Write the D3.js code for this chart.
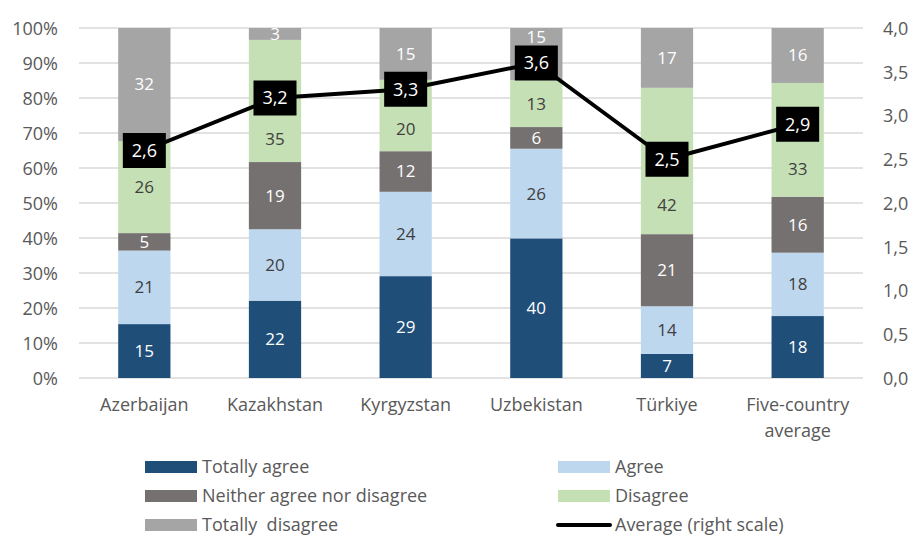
<!DOCTYPE html>
<html>
<head>
<meta charset="utf-8">
<script src="https://cdn.jsdelivr.net/npm/d3@7"></script>
<style>
  body { margin: 0; background: #fff; }
  svg text { font-family: "Open Sans", sans-serif; }
</style>
</head>
<body>
<div id="chart"></div>
<script>
// chart values
const categories = ["Azerbaijan", "Kazakhstan", "Kyrgyzstan", "Uzbekistan", "Türkiye", "Five-country average"];
const totallyAgree = [15.4, 22.1, 29.1, 39.9, 6.9, 17.7];
const agree = [21.0, 20.4, 24.1, 25.6, 13.6, 18.1];
const neither = [5.0, 19.2, 11.6, 6.2, 20.6, 16.0];
const disagree = [26.3, 34.9, 20.4, 13.4, 41.8, 32.5];
const totallyDisagree = [32.3, 3.4, 14.8, 14.9, 17.1, 15.7];
const average = [2.6, 3.2, 3.3, 3.6, 2.5, 2.9];

const leftTicks = [0, 10, 20, 30, 40, 50, 60, 70, 80, 90, 100];
const rightTicks = [0, 0.5, 1, 1.5, 2, 2.5, 3, 3.5, 4];

const series = [
  { name: "Totally agree", values: totallyAgree, color: "#1f4e79", text: "#ffffff" },
  { name: "Agree", values: agree, color: "#bdd7ee", text: "#404040" },
  { name: "Neither agree nor disagree", values: neither, color: "#767171", text: "#ffffff" },
  { name: "Disagree", values: disagree, color: "#c5e0b4", text: "#404040" },
  { name: "Totally  disagree", values: totallyDisagree, color: "#a5a5a5", text: "#ffffff" }
];

const width = 913, height = 536;
const margin = { top: 28, right: 50, bottom: 158, left: 79 };
const boxW = 43, boxH = 35;

const svg = d3.select("#chart").append("svg")
  .attr("width", width)
  .attr("height", height);

const x = d3.scaleBand()
  .domain(categories)
  .range([margin.left, width - margin.right])
  .paddingInner(0.6)
  .paddingOuter(0.3);

const y = d3.scaleLinear()
  .domain([0, 100])
  .range([height - margin.bottom, margin.top]);

const y2 = d3.scaleLinear()
  .domain([0, 4])
  .range([height - margin.bottom, margin.top]);

const comma = d3.formatLocale({ decimal: ",", thousands: ".", grouping: [3], currency: ["", ""] });

// gridlines
svg.append("g")
  .selectAll("line")
  .data(leftTicks)
  .join("line")
  .attr("x1", margin.left)
  .attr("x2", width - margin.right)
  .attr("y1", d => y(d))
  .attr("y2", d => y(d))
  .attr("stroke", "#d9d9d9")
  .attr("stroke-width", 1.5);

// left axis
const yAxis = svg.append("g")
  .attr("transform", `translate(${margin.left - 21}, 0)`)
  .call(d3.axisLeft(y).tickValues(leftTicks).tickSize(0).tickFormat(d => d + "%"));
yAxis.select(".domain").remove();
yAxis.selectAll("text")
  .attr("fill", "#595959")
  .style("font-size", "18px")
  .attr("dy", "0.35em")
  .attr("x", 0);

// right axis
const y2Axis = svg.append("g")
  .attr("transform", `translate(${width - margin.right + 20}, 0)`)
  .call(d3.axisRight(y2).tickValues(rightTicks).tickSize(0).tickFormat(comma.format(".1f")));
y2Axis.select(".domain").remove();
y2Axis.selectAll("text")
  .attr("fill", "#595959")
  .style("font-size", "18px")
  .attr("dy", "0.35em")
  .attr("x", 0);

// x axis labels (long ones wrapped)
const xAxis = svg.append("g")
  .attr("transform", `translate(0, ${height - margin.bottom})`)
  .call(d3.axisBottom(x).tickSize(0));
xAxis.select(".domain").remove();
xAxis.selectAll("text")
  .attr("fill", "#595959")
  .style("font-size", "18px")
  .attr("y", 27)
  .attr("dy", "0.35em")
  .each(function (d) {
    const t = d3.select(this);
    const words = d.split(" ");
    if (words.length > 1 && d.length > 12) {
      t.text(null);
      t.append("tspan").attr("x", 0).attr("dy", "0.35em").text(words.slice(0, -1).join(" "));
      t.append("tspan").attr("x", 0).attr("dy", "1.45em").text(words[words.length - 1]);
    }
  });

// stack the bars
const rows = categories.map((c, i) => {
  const row = { category: c };
  series.forEach(s => { row[s.name] = s.values[i]; });
  return row;
});
const stacked = d3.stack().keys(series.map(s => s.name))(rows);

const layers = svg.append("g")
  .selectAll("g")
  .data(stacked)
  .join("g")
  .attr("fill", (d, i) => series[i].color);

layers.selectAll("rect")
  .data(d => d)
  .join("rect")
  .attr("x", d => x(d.data.category))
  .attr("y", d => y(d[1]))
  .attr("width", x.bandwidth())
  .attr("height", d => y(d[0]) - y(d[1]));

// label position: segment middle, or moved off the average box if they collide
function labelY(d) {
  const top = y(d[1]), bottom = y(d[0]);
  const mid = (top + bottom) / 2;
  const i = categories.indexOf(d.data.category);
  const by = y2(average[i]);
  if (Math.abs(mid - by) < boxH / 2 + 9) {
    const upper = [top, by - boxH / 2];
    const lower = [by + boxH / 2, bottom];
    const part = (upper[1] - upper[0]) > (lower[1] - lower[0]) ? upper : lower;
    return (part[0] + part[1]) / 2;
  }
  return mid;
}

const labelLayers = svg.append("g")
  .selectAll("g")
  .data(stacked)
  .join("g")
  .attr("fill", (d, i) => series[i].text);

labelLayers.selectAll("text")
  .data(d => d)
  .join("text")
  .attr("x", d => x(d.data.category) + x.bandwidth() / 2)
  .attr("y", d => labelY(d))
  .attr("dy", "0.35em")
  .attr("text-anchor", "middle")
  .style("font-size", "17px")
  .text(d => Math.round(d[1] - d[0]));

// average line (right scale)
const pts = categories.map((c, i) => [x(c) + x.bandwidth() / 2, y2(average[i])]);
svg.append("path")
  .attr("d", d3.line()(pts))
  .attr("fill", "none")
  .attr("stroke", "#000")
  .attr("stroke-width", 4)
  .attr("stroke-linejoin", "round");

const boxes = svg.append("g")
  .selectAll("g")
  .data(average)
  .join("g")
  .attr("transform", (d, i) => `translate(${x(categories[i]) + x.bandwidth() / 2}, ${y2(d)})`);
boxes.append("rect")
  .attr("x", -boxW / 2)
  .attr("y", -boxH / 2)
  .attr("width", boxW)
  .attr("height", boxH)
  .attr("fill", "#000");
boxes.append("text")
  .attr("text-anchor", "middle")
  .attr("dy", "0.35em")
  .attr("fill", "#fff")
  .style("font-size", "18px")
  .text(d => comma.format(".1f")(d));

// legend
const legendItems = [
  { name: series[0].name, color: series[0].color, type: "rect" },
  { name: series[1].name, color: series[1].color, type: "rect" },
  { name: series[2].name, color: series[2].color, type: "rect" },
  { name: series[3].name, color: series[3].color, type: "rect" },
  { name: series[4].name, color: series[4].color, type: "rect" },
  { name: "Average (right scale)", color: "#000", type: "line" }
];

const legend = svg.append("g")
  .selectAll("g")
  .data(legendItems)
  .join("g")
  .attr("transform", (d, i) => `translate(${i % 2 === 0 ? 145 : 558}, ${467 + Math.floor(i / 2) * 29})`);

legend.filter(d => d.type === "rect").append("rect")
  .attr("x", 0)
  .attr("y", -6)
  .attr("width", 52)
  .attr("height", 12)
  .attr("fill", d => d.color);

legend.filter(d => d.type === "line").append("line")
  .attr("x1", 0)
  .attr("x2", 52)
  .attr("stroke", d => d.color)
  .attr("stroke-width", 4)
  .attr("stroke-linecap", "round");

legend.append("text")
  .attr("x", 57)
  .attr("dy", "0.35em")
  .attr("fill", "#595959")
  .style("font-size", "18px")
  .style("white-space", "pre")
  .text(d => d.name);
</script>
</body>
</html>
